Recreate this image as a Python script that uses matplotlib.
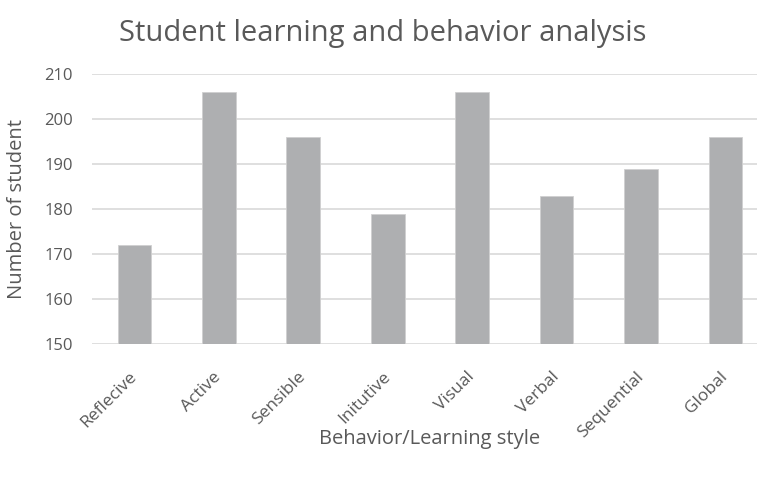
import numpy as np
import matplotlib.pyplot as plt

# Learning style counts
styles = ['Reflecive', 'Active', 'Sensible', 'Initutive', 'Visual', 'Verbal', 'Sequential', 'Global']
students = [172, 206, 196, 179, 206, 183, 189, 196]
y_ticks = [150, 160, 170, 180, 190, 200, 210]

plt.rcParams['font.family'] = ['Open Sans', 'DejaVu Sans']
txt = '#595959'

fig = plt.figure(figsize=(7.57, 4.8), dpi=100)
ax = fig.add_axes([0.122, 0.283, 0.892, 0.563])

x = np.arange(len(styles))
ax.bar(x, students, width=0.40, color='#aeafb1', edgecolor='#d0d0d0', linewidth=0.6, zorder=3)

ax.set_ylim(150, 210)
ax.set_xlim(-0.5, len(styles) - 0.5)
ax.set_yticks(y_ticks)
ax.set_yticklabels([str(v) for v in y_ticks], color=txt, fontsize=12)
ax.set_xticks(x)
ax.set_xticklabels(styles, rotation=45, ha='right', va='center', rotation_mode='anchor',
                   color=txt, fontsize=12.5)
ax.tick_params(axis='y', length=0, pad=14)
ax.tick_params(axis='x', length=0, pad=22)
ax.yaxis.grid(True, color='#d9d9d9', linewidth=1.2, zorder=0)
for s in ax.spines.values():
    s.set_visible(False)

ax.set_ylabel('Number of student', color=txt, fontsize=14.5, va='center')
ax.yaxis.set_label_coords(-0.111, 0.5)
ax.set_xlabel('Behavior/Learning style', color=txt, fontsize=14.5, va='center')
ax.xaxis.set_label_coords(0.5, -0.35)
fig.text(0.506, 0.93, 'Student learning and behavior analysis', ha='center', va='center',
         color=txt, fontsize=21)

fig.savefig('out.png', dpi=100)
